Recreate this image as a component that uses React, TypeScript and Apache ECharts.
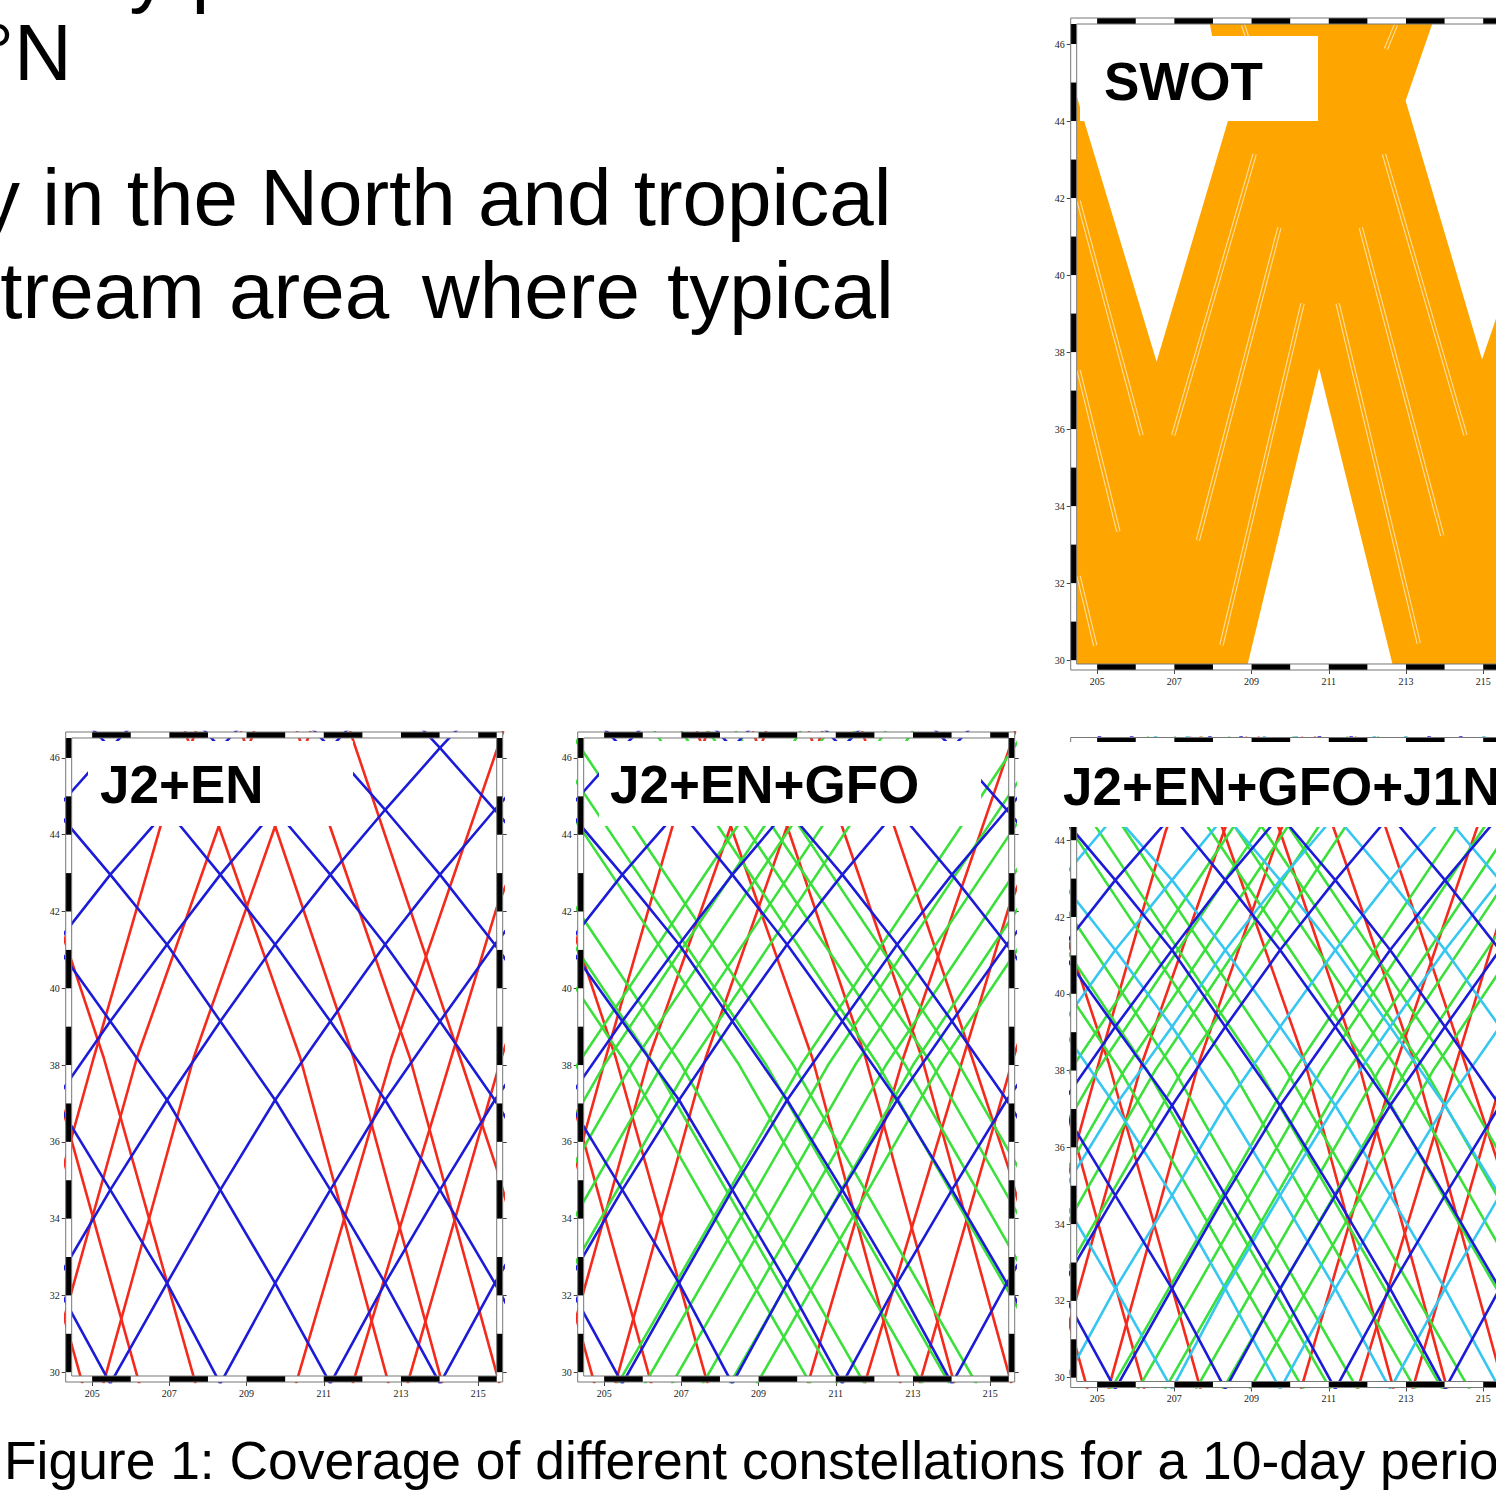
import React, { useEffect, useRef } from "react";
import * as echarts from "echarts";

// ---------- axes ----------
const lonTicks = [205, 207, 209, 211, 213, 215];
const latTicks = [30, 32, 34, 36, 38, 40, 42, 44, 46];
const plotLon = [204.47, 215.48];
const plotLat = [29.9, 46.52];
const outLon = [204.315, 215.635];
const outLat = [29.744, 46.676];
const frameLonBlack = [[205, 206], [207, 208], [209, 210], [211, 212], [213, 214], [215, 215.48]];
const frameLatBlack = [[30, 31], [32, 33], [34, 35], [36, 37], [38, 39], [40, 41], [42, 43], [44, 45], [46, 46.52]];

// ---------- ground tracks (lon, lat) ----------
const j2Tracks = [
  [[212.59, 47.79], [214.01, 46.26], [215.43, 44.65], [216.86, 42.96]],
  [[209.74, 47.79], [211.17, 46.26], [212.59, 44.65], [214.01, 42.96], [215.43, 41.14], [216.86, 39.14]],
  [[206.94, 47.79], [208.32, 46.26], [209.74, 44.65], [211.17, 42.96], [212.59, 41.14], [214.01, 39.14], [215.43, 37.09], [216.86, 34.75]],
  [[204.05, 47.79], [205.47, 46.26], [206.94, 44.65], [208.32, 42.96], [209.74, 41.14], [211.17, 39.14], [212.59, 37.09], [214.01, 34.75], [215.43, 32.32], [216.86, 29.7]],
  [[204.05, 44.65], [205.47, 42.96], [206.94, 41.14], [208.32, 39.14], [209.74, 37.09], [211.17, 34.75], [212.59, 32.32], [214.01, 29.7], [215.43, 27.1]],
  [[204.05, 41.14], [205.47, 39.14], [206.94, 37.09], [208.32, 34.75], [209.74, 32.32], [211.17, 29.7], [212.59, 27.1]],
  [[204.05, 37.09], [205.47, 34.75], [206.94, 32.32], [208.32, 29.7], [209.74, 27.1]],
  [[204.05, 32.32], [205.47, 29.7], [206.94, 27.1]],
  [[204.05, 44.65], [205.47, 46.26], [206.94, 47.79]],
  [[204.05, 41.14], [205.47, 42.96], [206.94, 44.65], [208.32, 46.26], [209.74, 47.79]],
  [[204.05, 37.09], [205.47, 39.14], [206.94, 41.14], [208.32, 42.96], [209.74, 44.65], [211.17, 46.26], [212.59, 47.79]],
  [[204.05, 32.32], [205.47, 34.75], [206.94, 37.09], [208.32, 39.14], [209.74, 41.14], [211.17, 42.96], [212.59, 44.65], [214.01, 46.26], [215.43, 47.79]],
  [[204.05, 27.1], [205.47, 29.7], [206.94, 32.32], [208.32, 34.75], [209.74, 37.09], [211.17, 39.14], [212.59, 41.14], [214.01, 42.96], [215.43, 44.65], [216.86, 46.26]],
  [[206.94, 27.1], [208.32, 29.7], [209.74, 32.32], [211.17, 34.75], [212.59, 37.09], [214.01, 39.14], [215.43, 41.14], [216.86, 42.96]],
  [[209.74, 27.1], [211.17, 29.7], [212.59, 32.32], [214.01, 34.75], [215.43, 37.09], [216.86, 39.14]],
  [[212.59, 27.1], [214.01, 29.7], [215.43, 32.32], [216.86, 34.75]],
];

const enTracks = [
  [[207.4, 46.7], [208.28, 44.22], [210.39, 38.19], [212.68, 29.7]],
  [[208.85, 46.7], [209.74, 44.22], [211.77, 38.19], [214.07, 29.7]],
  [[210.3, 46.7], [211.16, 44.22], [213.23, 38.19], [215.55, 29.7]],
  [[211.68, 46.7], [214.53, 38.19], [215.48, 35.3], [216.7, 31.0]],
  [[203.7, 43.0], [204.47, 40.7], [205.3, 38.19], [207.68, 29.7]],
  [[203.87, 38.19], [206.25, 29.6]],
  [[203.2, 35.3], [204.75, 29.7]],
  [[209.2, 46.7], [208.28, 44.22], [206.16, 38.19], [203.8, 29.7]],
  [[210.66, 46.7], [209.74, 44.22], [207.63, 38.19], [205.29, 29.7]],
  [[207.69, 46.7], [206.77, 44.22], [205.04, 38.19], [202.7, 29.7]],
  [[215.65, 46.7], [212.75, 38.19], [210.28, 29.7]],
  [[216.5, 44.6], [215.48, 42.1], [214.3, 38.19], [211.75, 29.7]],
  [[216.6, 41.2], [215.6, 38.19], [213.17, 29.7]],
];

const gfoTracks = [
  [[199.5, 29.6], [204.3, 38], [210.1, 46.7]],
  [[200.2, 29.6], [205.0, 38], [210.8, 46.7]],
  [[200.9, 29.6], [205.7, 38], [211.5, 46.7]],
  [[201.7, 29.6], [206.5, 38], [212.3, 46.7]],
  [[202.4, 29.6], [207.2, 38], [213.0, 46.7]],
  [[205.3, 29.6], [210.1, 38], [215.9, 46.7]],
  [[206.0, 29.6], [210.8, 38], [216.6, 46.7]],
  [[206.7, 29.6], [211.5, 38], [217.3, 46.7]],
  [[207.5, 29.6], [212.3, 38], [218.1, 46.7]],
  [[208.2, 29.6], [213.0, 38], [218.8, 46.7]],
  [[208.9, 29.6], [213.7, 38], [219.5, 46.7]],
  [[199.8, 46.7], [205.6, 38], [210.4, 29.6]],
  [[200.5, 46.7], [206.3, 38], [211.1, 29.6]],
  [[201.2, 46.7], [207.0, 38], [211.8, 29.6]],
  [[202.7, 46.7], [208.5, 38], [213.3, 29.6]],
  [[203.4, 46.7], [209.2, 38], [214.0, 29.6]],
  [[204.1, 46.7], [209.9, 38], [214.7, 29.6]],
  [[206.3, 46.7], [212.1, 38], [216.9, 29.6]],
  [[207.0, 46.7], [212.8, 38], [217.6, 29.6]],
  [[207.7, 46.7], [213.5, 38], [218.3, 29.6]],
  [[208.4, 46.7], [214.2, 38], [219.0, 29.6]],
];

const j1nTracks = [
  [[214.01, 47.79], [215.43, 46.26], [216.86, 44.65]],
  [[211.17, 47.79], [212.59, 46.26], [214.01, 44.65], [215.43, 42.96], [216.86, 41.14]],
  [[208.32, 47.79], [209.74, 46.26], [211.17, 44.65], [212.59, 42.96], [214.01, 41.14], [215.43, 39.14], [216.86, 37.09]],
  [[205.47, 47.79], [206.94, 46.26], [208.32, 44.65], [209.74, 42.96], [211.17, 41.14], [212.59, 39.14], [214.01, 37.09], [215.43, 34.75], [216.86, 32.32]],
  [[204.05, 46.26], [205.47, 44.65], [206.94, 42.96], [208.32, 41.14], [209.74, 39.14], [211.17, 37.09], [212.59, 34.75], [214.01, 32.32], [215.43, 29.7], [216.86, 27.1]],
  [[204.05, 42.96], [205.47, 41.14], [206.94, 39.14], [208.32, 37.09], [209.74, 34.75], [211.17, 32.32], [212.59, 29.7], [214.01, 27.1]],
  [[204.05, 39.14], [205.47, 37.09], [206.94, 34.75], [208.32, 32.32], [209.74, 29.7], [211.17, 27.1]],
  [[204.05, 34.75], [205.47, 32.32], [206.94, 29.7], [208.32, 27.1]],
  [[204.05, 29.7], [205.47, 27.1]],
  [[204.05, 42.96], [205.47, 44.65], [206.94, 46.26], [208.32, 47.79]],
  [[204.05, 39.14], [205.47, 41.14], [206.94, 42.96], [208.32, 44.65], [209.74, 46.26], [211.17, 47.79]],
  [[204.05, 34.75], [205.47, 37.09], [206.94, 39.14], [208.32, 41.14], [209.74, 42.96], [211.17, 44.65], [212.59, 46.26], [214.01, 47.79]],
  [[204.05, 29.7], [205.47, 32.32], [206.94, 34.75], [208.32, 37.09], [209.74, 39.14], [211.17, 41.14], [212.59, 42.96], [214.01, 44.65], [215.43, 46.26], [216.86, 47.79]],
  [[205.47, 27.1], [206.94, 29.7], [208.32, 32.32], [209.74, 34.75], [211.17, 37.09], [212.59, 39.14], [214.01, 41.14], [215.43, 42.96], [216.86, 44.65]],
  [[208.32, 27.1], [209.74, 29.7], [211.17, 32.32], [212.59, 34.75], [214.01, 37.09], [215.43, 39.14], [216.86, 41.14]],
  [[211.17, 27.1], [212.59, 29.7], [214.01, 32.32], [215.43, 34.75], [216.86, 37.09]],
  [[214.01, 27.1], [215.43, 29.7], [216.86, 32.32]],
];

// ---------- SWOT swath coverage ----------
const swotCoverage = [
  [[204.47, 44.65], [206.54, 37.75], [208.39, 44.01], [207.92, 46.52], [213.68, 46.52], [212.99, 44.53], [214.97, 37.81],
   [215.48, 39.3], [215.48, 29.9], [212.65, 29.9], [210.75, 37.58], [208.9, 29.9], [204.47, 29.9]],
];
const swotNadirGaps = [
  [[204.52, 41.92], [206.15, 35.84]],
  [[204.52, 37.52], [205.55, 33.34]],
  [[204.52, 32.18], [204.95, 30.38]],
  [[206.97, 35.84], [209.08, 43.14]],
  [[207.61, 33.11], [209.72, 41.23]],
  [[208.22, 30.39], [210.32, 39.26]],
  [[211.23, 39.26], [213.33, 30.44]],
  [[211.83, 41.23], [213.94, 33.23]],
  [[212.43, 43.14], [214.54, 35.84]],
  [[212.48, 45.87], [212.74, 46.5]],
  [[208.78, 46.5], [209.04, 45.7]],
];

// ---------- layout (pixels) ----------
const PANELS = [
  { left: 1070.7, top: 18, width: 437, height: 652 },
  { left: 65.7, top: 732, width: 437, height: 650 },
  { left: 577.7, top: 732, width: 437, height: 650 },
  { left: 1070.7, top: 737.5, width: 437, height: 650 },
];
const COLORS = { j2: "#1c1cd8", en: "#f42a1c", gfo: "#3be03b", j1n: "#36c6f0", swot: "#ffa500" };
const SANS = '"Liberation Sans", Arial, sans-serif';
const SERIF = '"Liberation Serif", "Times New Roman", serif';

function buildOption() {
  const grid = PANELS.map((p) => ({ left: p.left, top: p.top, width: p.width, height: p.height, show: false }));
  const xAxis: any[] = [];
  const yAxis: any[] = [];
  PANELS.forEach((_, g) => {
    xAxis.push({
      gridIndex: g, type: "value", min: outLon[0], max: outLon[1],
      axisLine: { show: false }, splitLine: { show: false },
      axisTick: { show: true, customValues: lonTicks, length: 4, lineStyle: { color: "#444", width: 1 } },
      axisLabel: { customValues: lonTicks, fontSize: 10, fontFamily: SERIF, color: "#222", margin: 6 },
    });
    yAxis.push({
      gridIndex: g, type: "value", min: outLat[0], max: outLat[1], position: "left",
      axisLine: { show: false }, splitLine: { show: false },
      axisTick: { show: true, customValues: latTicks, length: 4, lineStyle: { color: "#444", width: 1 } },
      axisLabel: { customValues: latTicks, fontSize: 10, fontFamily: SERIF, color: "#222", margin: 6 },
    });
    yAxis.push({
      gridIndex: g, type: "value", min: outLat[0], max: outLat[1], position: "right",
      axisLine: { show: false }, splitLine: { show: false },
      axisTick: { show: true, customValues: latTicks, length: 4, lineStyle: { color: "#444", width: 1 } },
      axisLabel: { show: false },
    });
  });

  const series: any[] = [];
  const tracks = (list: number[][][], color: string, g: number, width = 2.6) =>
    list.forEach((t) =>
      series.push({
        type: "line", xAxisIndex: g, yAxisIndex: g * 2, data: t, symbol: "none", showSymbol: false,
        lineStyle: { color, width }, clip: true, silent: true, z: 2, animation: false,
      })
    );

  // SWOT panel
  series.push({
    type: "custom", xAxisIndex: 0, yAxisIndex: 0, silent: true, z: 1, clip: true,
    data: swotCoverage.map((poly, i) => [poly[0][0], poly[0][1], i]),
    encode: { x: 0, y: 1 },
    renderItem: (_p: any, api: any) => {
      const poly = swotCoverage[api.value(2)];
      return { type: "polygon", shape: { points: poly.map((pt) => api.coord(pt)) }, style: { fill: COLORS.swot } };
    },
  });
  tracks(swotNadirGaps, "#ffdf9e", 0, 4.4);
  tracks(swotNadirGaps, COLORS.swot, 0, 2.2);

  // constellations
  tracks(enTracks, COLORS.en, 1);
  tracks(j2Tracks, COLORS.j2, 1);
  tracks(enTracks, COLORS.en, 2);
  tracks(gfoTracks, COLORS.gfo, 2);
  tracks(j2Tracks, COLORS.j2, 2);
  tracks(enTracks, COLORS.en, 3);
  tracks(gfoTracks, COLORS.gfo, 3);
  tracks(j1nTracks, COLORS.j1n, 3);
  tracks(j2Tracks, COLORS.j2, 3);

  // fancy frames
  const frame: number[][] = [
    [outLon[0], outLat[0], plotLon[0], outLat[1], 0],
    [plotLon[1], outLat[0], outLon[1], outLat[1], 0],
    [plotLon[0], outLat[0], plotLon[1], plotLat[0], 0],
    [plotLon[0], plotLat[1], plotLon[1], outLat[1], 0],
  ];
  frameLatBlack.forEach(([a, b]) => {
    frame.push([outLon[0], a, plotLon[0], b, 1]);
    frame.push([plotLon[1], a, outLon[1], b, 1]);
  });
  frameLonBlack.forEach(([a, b]) => {
    frame.push([a, outLat[0], b, plotLat[0], 1]);
    frame.push([a, plotLat[1], b, outLat[1], 1]);
  });
  frame.push([outLon[0], outLat[0], outLon[1], outLat[1], 2]);
  frame.push([plotLon[0], plotLat[0], plotLon[1], plotLat[1], 2]);

  PANELS.forEach((_, g) => {
    series.push({
      type: "custom", xAxisIndex: g, yAxisIndex: g * 2, silent: true, z: 5,
      data: frame, encode: { x: [0, 2], y: [1, 3] },
      renderItem: (_p: any, api: any) => {
        const a = api.coord([api.value(0), api.value(1)]);
        const b = api.coord([api.value(2), api.value(3)]);
        const kind = api.value(4);
        const shape = { x: Math.min(a[0], b[0]), y: Math.min(a[1], b[1]), width: Math.abs(b[0] - a[0]), height: Math.abs(b[1] - a[1]) };
        if (kind === 2) return { type: "rect", shape, style: { fill: "none", stroke: "#777", lineWidth: 1 } };
        return { type: "rect", shape, style: { fill: kind === 1 ? "#000" : "#fff" } };
      },
    });
  });

  const text = (t: string, x: number, baseline: number, size: number, bold = false) => ({
    type: "text", x, y: baseline - size * 0.35, z: 100,
    style: { text: t, font: `${bold ? "bold " : ""}${size}px ${SANS}`, fill: "#000", textAlign: "left", textVerticalAlign: "middle", align: "left", verticalAlign: "middle" },
  });
  const box = (x: number, y: number, w: number, h: number) => ({ type: "rect", z: 99, shape: { x, y, width: w, height: h }, style: { fill: "#fff" } });

  const graphic = [
    text("study period", -22, -3, 80),
    text("46°N", -107, 80, 80),
    text("y in the North and tropical", -20, 225, 80),
    text("Stream", -53, 318, 80),
    text("area", 229, 318, 80),
    text("where", 422, 318, 80),
    text("typical", 667, 318, 80),
    box(1080, 36, 238, 85),
    text("SWOT", 1104, 100, 53, true),
    box(88, 741, 265, 85),
    text("J2+EN", 100, 803, 53, true),
    box(599, 741, 382, 85),
    text("J2+EN+GFO", 610, 803, 53, true),
    box(1050, 742, 520, 85),
    text("J2+EN+GFO+J1N", 1063, 805, 53, true),
    text("Figure 1: Coverage of different constellations for a 10-day period", 4, 1479, 53.4),
  ];

  return { animation: false, backgroundColor: "#fff", grid, xAxis, yAxis, series, graphic: { elements: graphic } };
}

export default function App() {
  const ref = useRef<HTMLDivElement>(null);
  useEffect(() => {
    const chart = echarts.init(ref.current as HTMLDivElement, undefined, { renderer: "svg" });
    chart.setOption(buildOption() as any);
    return () => chart.dispose();
  }, []);
  return (
    <div style={{ position: "fixed", left: 0, top: 0, width: 1496, height: 1502, overflow: "hidden", background: "#fff" }}>
      <div ref={ref} style={{ width: 1600, height: 1502 }} />
    </div>
  );
}
